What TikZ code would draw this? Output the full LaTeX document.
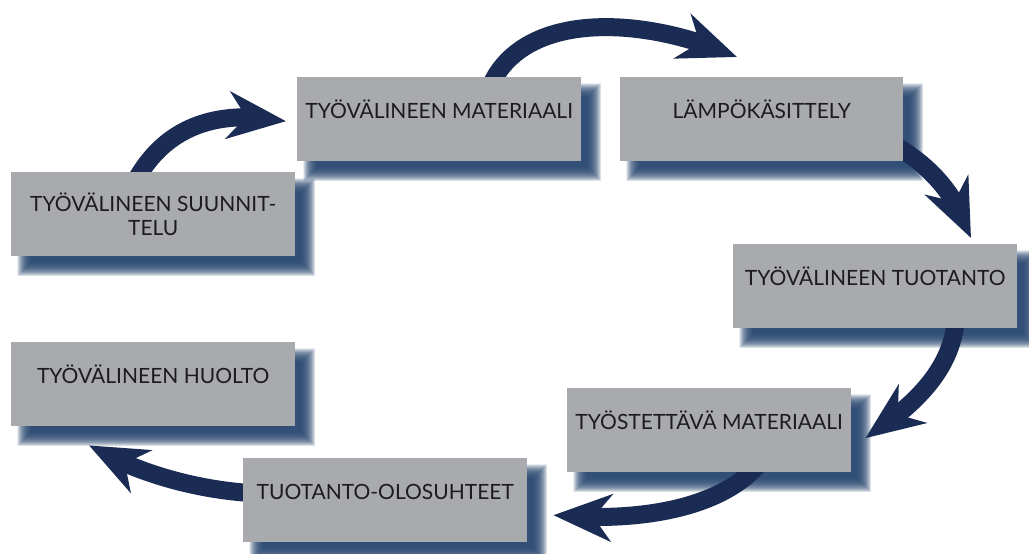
\documentclass[tikz,border=0pt]{standalone}
\usepackage{fontspec}
\setmainfont{Lato}
\usetikzlibrary{arrows.meta,bending,calc}
\definecolor{boxgray}{RGB}{168,170,174}
\definecolor{navy}{RGB}{27,44,84}
\definecolor{shadowblue}{RGB}{40,72,114}
\definecolor{txt}{RGB}{28,28,30}
\pgfdeclarelayer{bg}
\pgfdeclarelayer{mid}
\pgfsetlayers{bg,mid,main}
\tikzset{
  stagebox/.style={rectangle, fill=boxgray, anchor=north west,
    minimum width=284pt, minimum height=84pt, inner sep=0pt, text=txt,
    font=\fontsize{21}{24.5}\selectfont, align=center},
  oneline/.style={text height=15pt, text depth=16pt},
  flowarrow/.style={draw=navy, line width=18pt,
    -{Stealth[length=58pt,width=47pt,inset=18pt,flex]}},
  softshadow/.style={fill=shadowblue, opacity=0.085},
}
\newcommand{\softshade}[1]{%
  \foreach \d in {-7,-6.5,...,7.1} {
    \fill[softshadow] ($(#1.north west)+(13+\d,13+\d)$) rectangle ($(#1.south east)+(13-\d,13-\d)$);
  }}
\begin{document}
\begin{tikzpicture}[x=1pt,y=-1pt]
\useasboundingbox (0,0) rectangle (1029,554);
% boxes
\node[stagebox,oneline] (mat)    at (297,77)  {TYÖVÄLINEEN MATERIAALI};
\node[stagebox,oneline,minimum width=283pt] (lamp) at (620,77) {LÄMPÖKÄSITTELY};
\node[stagebox]         (suun)   at (11,172)  {TYÖVÄLINEEN SUUNNIT-\\TELU};
\node[stagebox,oneline] (tuot)   at (733,244) {TYÖVÄLINEEN TUOTANTO};
\node[stagebox,oneline] (huolto) at (11,342)  {TYÖVÄLINEEN HUOLTO};
\node[stagebox,oneline] (tyost)  at (567,388) {TYÖSTETTÄVÄ MATERIAALI};
\node[stagebox,oneline] (olo)    at (243,458) {TUOTANTO-OLOSUHTEET};
% shadows
\begin{pgfonlayer}{bg}
  \fill[white] (0,0) rectangle (1029,554);
  \softshade{mat}
  \softshade{lamp}
  \softshade{suun}
  \softshade{tuot}
  \softshade{huolto}
  \softshade{tyost}
  \softshade{olo}
\end{pgfonlayer}
% arrows
\begin{pgfonlayer}{mid}
  \draw[flowarrow] ($(suun.north west)+(125,8)$) .. controls (165,128) and (215,108) .. ($(mat.west)+(-11,2)$);
  \draw[flowarrow] ($(mat.north west)+(193,10)$) .. controls (522,12) and (640,14) .. ($(lamp.north west)+(117,-20)$);
  \draw[flowarrow] ($(lamp.south east)+(-12,-18)$) .. controls (935,168) and (957,198) .. ($(tuot.north west)+(238,-6)$);
  \draw[flowarrow] ($(tuot.south west)+(223,-10)$) .. controls (952,370) and (915,405) .. ($(tyost.east)+(14,8)$);
  \draw[flowarrow] ($(tyost.south west)+(193,-10)$) .. controls (730,500) and (660,524) .. ($(olo.east)+(26,15)$);
  \draw[flowarrow] ($(olo.west)+(10,-7)$) .. controls (200,490) and (140,475) .. ($(huolto.south west)+(78,19)$);
\end{pgfonlayer}
\end{tikzpicture}
\end{document}
